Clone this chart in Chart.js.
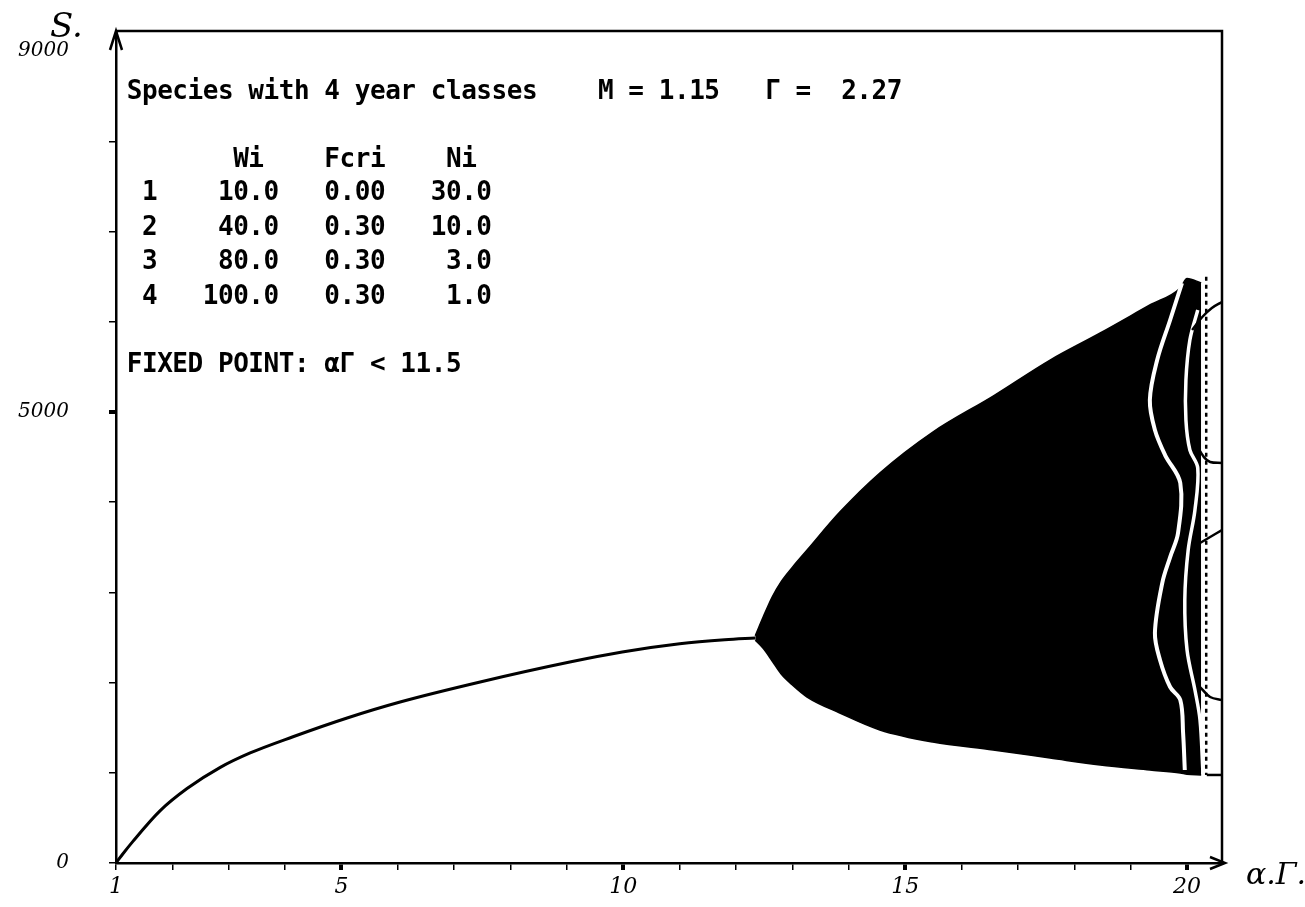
<!DOCTYPE html>
<html><head><meta charset="utf-8">
<script src="https://cdn.jsdelivr.net/npm/chart.js@4.4.1/dist/chart.umd.min.js"></script>
<style>html,body{margin:0;padding:0;background:#fff;}canvas{display:block;}</style>
</head><body>
<canvas id="c" width="1305" height="907"></canvas>
<script>
// ---- data ----
// fixed point branch (alpha*Gamma -> S)
const fixedX = [1.0, 1.12, 1.30, 1.78, 2.26, 2.85, 3.38, 4.14, 5.10, 6.04, 7.46, 9.05, 9.98, 11.0, 11.8, 12.34];
const fixedS = [0, 100, 240, 578, 825, 1060, 1220, 1400, 1608, 1785, 2007, 2228, 2339, 2430, 2475, 2495];
// envelope of the chaotic band
const bandX     = [12.34, 12.48, 12.64, 12.80, 13.00, 13.26, 13.84, 14.55, 15.49, 16.56, 17.57, 18.46, 19.34, 19.88, 20.00, 20.25];
const bandUpper = [2520, 2727, 2949, 3120, 3280, 3470, 3890, 4324, 4778, 5177, 5576, 5876, 6186, 6375, 6480, 6430];
const bandLower = [2470, 2380, 2240, 2095, 1973, 1840, 1663, 1475, 1341, 1253, 1164, 1086, 1031, 998, 985, 976];
// white gaps inside the band near its right end
const gapAX = [19.91, 19.70, 19.47, 19.34, 19.43, 19.61, 19.88, 19.84, 19.70, 19.56, 19.43, 19.52, 19.70, 19.88, 19.93, 19.96];
const gapAS = [6430, 6020, 5576, 5133, 4800, 4523, 4213, 3659, 3392, 3104, 2550, 2251, 1951, 1807, 1441, 1031];
const gapBX = [20.19, 20.05, 19.98, 19.98, 20.05, 20.19, 20.14, 20.02, 19.96, 20.00, 20.14, 20.23, 20.28];
const gapBS = [6131, 5798, 5355, 4911, 4579, 4379, 3914, 3470, 2916, 2361, 1918, 1585, 1031];
// dotted vertical column and periodic branches at the right
const dotX = [20.34, 20.34];
const dotS = [6500, 976];
const branch1X = [20.09, 20.27, 20.44, 20.62]; const branch1S = [5909, 6053, 6153, 6220];
const branch2X = [20.17, 20.30, 20.41, 20.62]; const branch2S = [4634, 4500, 4446, 4435];
const branch3X = [20.23, 20.41, 20.62];        const branch3S = [3548, 3614, 3692];
const branch4X = [20.23, 20.41, 20.62];        const branch4S = [1951, 1840, 1807];
const branch5X = [20.35, 20.62];               const branch5S = [976, 976];
// axis ticks
const xTickValues = [1,2,3,4,5,6,7,8,9,10,11,12,13,14,15,16,17,18,19,20];
const xLabelled = [1, 5, 10, 15, 20];
const yTickValues = [0,1000,2000,3000,4000,5000,6000,7000,8000,9000];
const yLabelled = [0, 5000, 9000];
// text panel
const titleText = 'Species with 4 year classes';
const mValue = 1.15, gammaValue = 2.27;
const classIds = [1, 2, 3, 4];
const weights  = [10.0, 40.0, 80.0, 100.0];
const fcri     = [0.00, 0.30, 0.30, 0.30];
const numbers  = [30.0, 10.0, 3.0, 1.0];
const fixedPointLimit = 11.5;

const pts = (xs, ys) => xs.map((x, i) => ({x: x, y: ys[i]}));

const panelLines = [
  {y: 92,  text: titleText + '    M = ' + mValue.toFixed(2) + '   \u0393 =  ' + gammaValue.toFixed(2)},
  {y: 160, text: '       Wi    Fcri    Ni'},
];
const rowY = [193, 228, 262, 297];
classIds.forEach((id, i) => {
  panelLines.push({y: rowY[i], text: ' ' + id + '   ' + weights[i].toFixed(1).padStart(5) + '   ' +
    fcri[i].toFixed(2) + '  ' + numbers[i].toFixed(1).padStart(5)});
});
panelLines.push({y: 365, text: 'FIXED POINT: \u03b1\u0393 < ' + fixedPointLimit.toFixed(1)});

const decor = {
  id: 'decor',
  afterDraw(chart) {
    const ctx = chart.ctx;
    const a = chart.chartArea;
    ctx.save();
    ctx.strokeStyle = '#000';
    ctx.lineWidth = 2.5;
    ctx.beginPath();
    ctx.moveTo(a.left, a.top); ctx.lineTo(a.right, a.top); ctx.lineTo(a.right, a.bottom);
    ctx.stroke();
    // arrows
    ctx.beginPath();
    ctx.moveTo(a.left - 6, a.top + 19); ctx.lineTo(a.left, a.top); ctx.lineTo(a.left + 6, a.top + 19);
    ctx.stroke();
    ctx.beginPath();
    ctx.moveTo(a.right - 12, a.bottom - 6); ctx.lineTo(a.right + 3, a.bottom); ctx.lineTo(a.right - 12, a.bottom + 6);
    ctx.stroke();
    // axis names
    ctx.fillStyle = '#000';
    ctx.textBaseline = 'middle';
    ctx.textAlign = 'left';
    ctx.font = 'italic 34px "DejaVu Serif"';
    ctx.fillText('S.', 50, 28);
    ctx.font = 'italic 30px "DejaVu Serif"';
    ctx.fillText('\u03b1.\u0393.', 1246, 876);
    // text panel, fixed-pitch cells
    ctx.font = 'bold 26px "DejaVu Sans Mono"';
    ctx.textAlign = 'center';
    const x0 = a.left + 11, cell = 15.2;
    panelLines.forEach(l => {
      for (let i = 0; i < l.text.length; i++) {
        const ch = l.text[i];
        if (ch !== ' ') ctx.fillText(ch, x0 + (i + 0.5) * cell, l.y);
      }
    });
    ctx.restore();
  }
};

const lineDs = (data, extra) => Object.assign({
  data: data, borderColor: '#000', borderWidth: 3, pointRadius: 0, tension: 0.35, fill: false
}, extra);

new Chart(document.getElementById('c'), {
  type: 'line',
  data: {
    datasets: [
      lineDs(pts(fixedX, fixedS), {order: 4, cubicInterpolationMode: 'monotone'}),
      lineDs(pts(bandX, bandUpper), {borderWidth: 1.5, cubicInterpolationMode: 'monotone', order: 5}),
      lineDs(pts(bandX, bandLower), {borderWidth: 1.5, cubicInterpolationMode: 'monotone', order: 5, fill: '-1', backgroundColor: '#000'}),
      lineDs(pts(gapAX, gapAS), {borderColor: '#fff', borderWidth: 4, order: 1}),
      lineDs(pts(gapBX, gapBS), {borderColor: '#fff', borderWidth: 3.5, order: 1}),
      lineDs(pts(dotX, dotS), {borderWidth: 2.5, borderDash: [4, 4], tension: 0, order: 0}),
      lineDs(pts(branch1X, branch1S), {borderWidth: 2.5, order: 0}),
      lineDs(pts(branch2X, branch2S), {borderWidth: 2.5, order: 0}),
      lineDs(pts(branch3X, branch3S), {borderWidth: 2.5, order: 0}),
      lineDs(pts(branch4X, branch4S), {borderWidth: 2.5, order: 0}),
      lineDs(pts(branch5X, branch5S), {borderWidth: 2.5, tension: 0, order: 0})
    ]
  },
  options: {
    responsive: false,
    animation: false,
    devicePixelRatio: 1,
    layout: {padding: {left: 0, top: 31, right: 83, bottom: 0}},
    plugins: {legend: {display: false}, tooltip: {enabled: false}},
    scales: {
      x: {
        type: 'linear', min: 1, max: 20.62,
        afterBuildTicks: s => { s.ticks = xTickValues.map(v => ({value: v})); },
        ticks: {
          autoSkip: false, maxRotation: 0, padding: 4,
          color: '#000', font: {family: 'DejaVu Serif', style: 'italic', size: 22},
          callback: v => xLabelled.includes(v) ? String(v) : ''
        },
        grid: {
          drawOnChartArea: false, drawTicks: true, tickLength: 7, tickColor: '#000',
          tickWidth: c => (c.tick && c.tick.value % 5 === 0) ? 4 : 1.5,
          lineWidth: c => (c.tick && c.tick.value % 5 === 0) ? 4 : 1.5
        },
        border: {display: true, color: '#000', width: 2.5},
        afterFit: s => { s.height = 44; s.paddingLeft = 0; s.paddingRight = 0; }
      },
      y: {
        type: 'linear', min: 0, max: 9224,
        afterBuildTicks: s => { s.ticks = yTickValues.map(v => ({value: v})); },
        ticks: {
          autoSkip: false, padding: 40,
          color: '#000', font: {family: 'DejaVu Serif', style: 'italic', size: 20},
          callback: v => yLabelled.includes(v) ? String(v) : ''
        },
        grid: {
          drawOnChartArea: false, drawTicks: true, tickLength: 7,
          tickColor: c => (c.tick && c.tick.value === 9000) ? 'rgba(0,0,0,0)' : '#000',
          tickWidth: c => (c.tick && c.tick.value === 5000) ? 4 : 1.5,
          lineWidth: c => (c.tick && c.tick.value === 5000) ? 4 : 1.5
        },
        border: {display: true, color: '#000', width: 2.5},
        afterFit: s => { s.width = 116; s.paddingTop = 0; s.paddingBottom = 0; }
      }
    }
  },
  plugins: [decor]
});
</script>
</body></html>
